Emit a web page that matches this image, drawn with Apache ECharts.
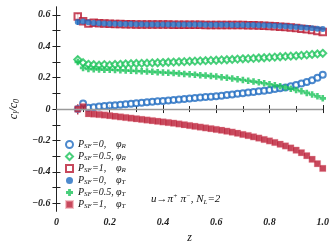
<!DOCTYPE html>
<html>
<head>
<meta charset="utf-8">
<script src="https://cdn.jsdelivr.net/npm/echarts@6/dist/echarts.min.js"></script>
<style>html,body{margin:0;padding:0;background:#fff;}#c{width:332px;height:249px;}</style>
</head>
<body>
<div id="c"></div>
<script>
// z grid (x values)
const zVals = [0.08,0.10,0.12,0.14,0.16,0.18,0.20,0.22,0.24,0.26,0.28,0.30,0.32,0.34,0.36,0.38,0.40,0.42,0.44,0.46,0.48,0.50,0.52,0.54,0.56,0.58,0.60,0.62,0.64,0.66,0.68,0.70,0.72,0.74,0.76,0.78,0.80,0.82,0.84,0.86,0.88,0.90,0.92,0.94,0.96,0.98,1.00];
// P_SF=0, phi_R
const sf0R = [0.000,0.035,0.008,0.012,0.016,0.019,0.022,0.025,0.028,0.031,0.034,0.037,0.040,0.043,0.046,0.049,0.052,0.055,0.058,0.061,0.064,0.067,0.070,0.073,0.076,0.079,0.082,0.085,0.089,0.093,0.097,0.101,0.105,0.109,0.113,0.117,0.122,0.127,0.132,0.138,0.145,0.153,0.162,0.172,0.184,0.199,0.218];
// P_SF=0.5, phi_R
const sf05R = [0.315,0.295,0.285,0.282,0.279,0.283,0.280,0.284,0.285,0.287,0.289,0.290,0.291,0.292,0.294,0.295,0.296,0.298,0.299,0.301,0.302,0.304,0.305,0.307,0.308,0.310,0.311,0.313,0.314,0.316,0.318,0.320,0.321,0.323,0.325,0.327,0.329,0.331,0.333,0.335,0.337,0.339,0.342,0.345,0.348,0.351,0.355];
// P_SF=1, phi_R
const sf1R = [0.590,0.560,0.545,0.550,0.546,0.545,0.543,0.542,0.541,0.540,0.540,0.539,0.539,0.538,0.538,0.538,0.538,0.538,0.537,0.537,0.537,0.537,0.537,0.537,0.536,0.536,0.536,0.536,0.536,0.535,0.535,0.535,0.534,0.533,0.532,0.531,0.529,0.527,0.525,0.522,0.519,0.516,0.512,0.508,0.503,0.497,0.490];
// P_SF=0, phi_T
const sf0T = [0.555,0.557,0.553,0.548,0.546,0.545,0.544,0.543,0.542,0.541,0.541,0.540,0.540,0.539,0.539,0.539,0.539,0.538,0.538,0.538,0.538,0.538,0.538,0.538,0.537,0.537,0.537,0.537,0.537,0.536,0.536,0.536,0.535,0.535,0.534,0.533,0.532,0.531,0.529,0.527,0.525,0.522,0.520,0.518,0.515,0.512,0.510];
// P_SF=0.5, phi_T
const sf05T = [0.300,0.262,0.255,0.254,0.252,0.251,0.250,0.249,0.247,0.246,0.244,0.242,0.241,0.239,0.237,0.235,0.233,0.231,0.229,0.227,0.224,0.222,0.219,0.216,0.213,0.210,0.207,0.203,0.199,0.195,0.190,0.185,0.180,0.175,0.170,0.164,0.158,0.152,0.145,0.138,0.130,0.122,0.113,0.103,0.093,0.081,0.068];
// P_SF=1, phi_T
const sf1T = [0.000,0.015,-0.030,-0.032,-0.035,-0.038,-0.042,-0.046,-0.050,-0.054,-0.058,-0.062,-0.066,-0.070,-0.074,-0.078,-0.082,-0.086,-0.090,-0.095,-0.100,-0.105,-0.110,-0.115,-0.120,-0.125,-0.130,-0.135,-0.141,-0.147,-0.154,-0.162,-0.169,-0.177,-0.185,-0.194,-0.203,-0.213,-0.224,-0.235,-0.248,-0.262,-0.278,-0.297,-0.320,-0.348,-0.378];
// error bars on the first points: [z, low, high]
const errSf1R = [[0.08, 0.570, 0.612]];
const errSf0T = [[0.08, 0.535, 0.575]];
const errSf05R = [[0.08, 0.292, 0.338]];
const errSf1T = [[0.08, -0.035, 0.030]];
// tick values
const yLabelVals = [-0.6,-0.4,-0.2,0,0.2,0.4,0.6];
const yTickVals = [-0.6,-0.5,-0.4,-0.3,-0.2,-0.1,0,0.1,0.2,0.3,0.4,0.5,0.6];
const legendNames = ['sf0R','sf05R','sf1R','sf0T','sf05T','sf1T'];
const legendSF = {sf0R:'0,',sf05R:'0.5,',sf1R:'1,',sf0T:'0,',sf05T:'0.5,',sf1T:'1,'};
const legendPhi = {sf0R:'R',sf05R:'R',sf1R:'R',sf0T:'T',sf05T:'T',sf1T:'T'};

const BLUE = '#1f6cc0', GREEN = '#1cc35a', RED = '#b91a33';
const SERIF = '"Liberation Serif","DejaVu Serif",serif';
const pair = arr => zVals.map((z, i) => [z, arr[i]]);
const plusPath = 'path://M3,0H7V3H10V7H7V10H3V7H0V3H3Z';

function errSeries(data, color) {
  return {
    type: 'custom', xAxisIndex: 0, yAxisIndex: 0, silent: true, z: 1,
    data: data,
    renderItem: function (params, api) {
      const p1 = api.coord([api.value(0), api.value(1)]);
      const p2 = api.coord([api.value(0), api.value(2)]);
      return {type: 'line', shape: {x1: p1[0], y1: p1[1], x2: p2[0], y2: p2[1]},
        style: {stroke: color, lineWidth: 1.3}};
    }
  };
}

const chart = echarts.init(document.getElementById('c'), null, {renderer: 'canvas'});
const axisLine = {show: true, lineStyle: {color: '#222', width: 1}};
const xCommon = {type: 'value', min: 0, max: 1, interval: 0.2, splitLine: {show: false},
  axisLine: axisLine, axisTick: {inside: true, length: 4, lineStyle: {color: '#222'}},
  minorTick: {show: true, splitNumber: 2, length: 3, lineStyle: {color: '#222'}}};
const yCommon = {type: 'value', min: -0.65, max: 0.65, splitLine: {show: false},
  axisLine: axisLine, axisTick: {inside: true, length: 4, customValues: yTickVals, lineStyle: {color: '#222'}}};

chart.setOption({
  animation: false,
  grid: {left: 44, right: 9, top: 7, bottom: 32},
  xAxis: [
    Object.assign({}, xCommon, {position: 'bottom', name: 'z', nameLocation: 'middle', nameGap: 19,
      nameTextStyle: {fontFamily: SERIF, fontStyle: 'italic', fontSize: 12, color: '#111'},
      axisLabel: {fontFamily: SERIF, fontStyle: 'italic', fontWeight: 'bold', fontSize: 10, color: '#222', margin: 6,
        formatter: v => (v === 0 ? '0' : v.toFixed(1))}}),
    Object.assign({}, xCommon, {position: 'top', axisLabel: {show: false}})
  ],
  yAxis: [
    Object.assign({}, yCommon, {position: 'left', name: '{i|c}{s|l}{i|/c}{s|0}', nameLocation: 'middle', nameGap: 24,
      nameTextStyle: {rich: {i: {fontFamily: SERIF, fontStyle: 'italic', fontSize: 12, color: '#111'},
        s: {fontFamily: SERIF, fontStyle: 'italic', fontSize: 8, color: '#111', verticalAlign: 'bottom', padding: [6,0,0,0]}}},
      axisLabel: {customValues: yLabelVals, fontFamily: SERIF, fontStyle: 'italic', fontWeight: 'bold', fontSize: 10, color: '#222', margin: 6,
        formatter: v => (Math.abs(v) < 1e-9 ? '0' : (v < 0 ? '\u2212' + Math.abs(v).toFixed(1) : v.toFixed(1)))}}),
    Object.assign({}, yCommon, {position: 'right', axisLabel: {show: false}})
  ],
  legend: {
    orient: 'vertical', left: 60, top: 134, itemWidth: 7, itemHeight: 7, itemGap: 1,
    data: legendNames,
    formatter: n => '{P|P}{sub|SF}{eq|=' + legendSF[n] + '}{phi|\u03c6}{sub2|' + legendPhi[n] + '}',
    textStyle: {
      rich: {
        P: {fontFamily: SERIF, fontStyle: 'italic', fontSize: 10, color: '#111', lineHeight: 11},
        sub: {fontFamily: SERIF, fontStyle: 'italic', fontSize: 7, color: '#111', padding: [4,0,0,0], lineHeight: 11},
        eq: {fontFamily: SERIF, fontStyle: 'italic', fontSize: 10, color: '#111', width: 24, lineHeight: 11},
        phi: {fontFamily: SERIF, fontStyle: 'italic', fontSize: 10, color: '#111', lineHeight: 11},
        sub2: {fontFamily: SERIF, fontStyle: 'italic', fontSize: 7, color: '#111', padding: [4,0,0,0], lineHeight: 11}
      }
    }
  },
  graphic: [{
    type: 'text', left: 151, top: 193,
    style: {
      text: '{i|u\u2192\u03c0}{sup|+}{i| \u03c0}{sup|\u2212}{i|, N}{sub|L}{i|=2}',
      rich: {
        i: {fontFamily: SERIF, fontStyle: 'italic', fontSize: 11, fill: '#111'},
        sup: {fontFamily: SERIF, fontStyle: 'italic', fontSize: 7, fill: '#111', padding: [0,0,6,0]},
        sub: {fontFamily: SERIF, fontStyle: 'italic', fontSize: 7, fill: '#111', padding: [6,0,0,0]}
      }
    }
  }],
  series: [
    errSeries(errSf05R, GREEN), errSeries(errSf1R, RED), errSeries(errSf0T, BLUE), errSeries(errSf1T, RED),
    {name: 'sf0R', type: 'scatter', data: pair(sf0R), symbol: 'emptyCircle', symbolSize: 6,
      itemStyle: {color: BLUE, borderColor: BLUE, borderWidth: 1.6},
      markLine: {silent: true, symbol: 'none', label: {show: false}, lineStyle: {color: '#9a9a9a', width: 1.3, type: 'solid'},
        data: [{yAxis: 0}]}},
    {name: 'sf05R', type: 'scatter', data: pair(sf05R), symbol: 'emptyDiamond', symbolSize: 7,
      itemStyle: {color: GREEN, borderColor: GREEN, borderWidth: 1.6}},
    {name: 'sf1R', type: 'scatter', data: pair(sf1R), symbol: 'emptyRect', symbolSize: 6.5,
      itemStyle: {color: RED, borderColor: RED, borderWidth: 1.4}},
    {name: 'sf0T', type: 'scatter', data: pair(sf0T), symbol: 'circle', symbolSize: 6,
      itemStyle: {color: BLUE}},
    {name: 'sf05T', type: 'scatter', data: pair(sf05T), symbol: plusPath, symbolSize: 6.5,
      itemStyle: {color: GREEN}},
    {name: 'sf1T', type: 'scatter', data: pair(sf1T), symbol: 'rect', symbolSize: 6.5,
      itemStyle: {color: RED, borderColor: 'rgba(236,150,160,0.7)', borderWidth: 0.5}}
  ]
});
</script>
</body>
</html>
